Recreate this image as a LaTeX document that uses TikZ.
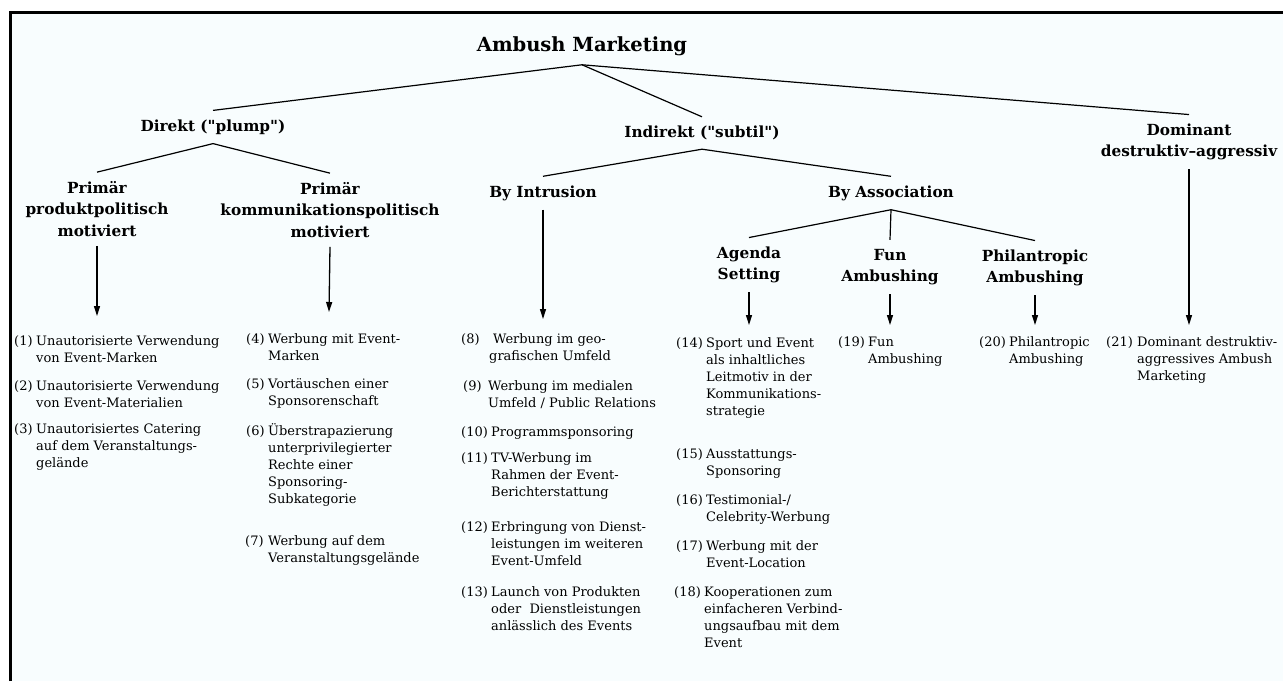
\documentclass[tikz,border=0pt]{standalone}
\usepackage{fontspec}
\setmainfont{DejaVu Serif}
\usetikzlibrary{arrows.meta}
\definecolor{bgc}{HTML}{F8FDFE}
\newcommand{\itm}[3]{\makebox[#1][l]{#2}\begin{tabular}[t]{@{}l@{}}#3\end{tabular}}
\newcommand{\q}{\textquotedbl}
\begin{document}
\begin{tikzpicture}[x=1pt,y=-1pt,
  head/.style={font=\fontsize{15.3}{21.5}\selectfont\bfseries, align=center, inner xsep=0pt, inner ysep=9pt},
  item/.style={font=\fontsize{13}{17}\selectfont, anchor=base west, inner sep=0pt},
  link/.style={line width=1.2pt},
  arr/.style={line width=1.3pt, -{Triangle[length=10pt,width=6pt]}}]
\useasboundingbox (0,0) rectangle (1283,681);
\fill[white] (0,0) rectangle (1283,681);
\fill[bgc] (10.5,12.5) rectangle (1283,681);
\draw[line width=3.5pt] (10.5,681) -- (10.5,12.7) -- (1283,12.7);

% headings
\node[head, font=\fontsize{19.5}{23}\selectfont\bfseries] (title) at (582,46) {Ambush Marketing};
\node[head] (direkt) at (213,127) {Direkt (\q plump\q)};
\node[head] (indirekt) at (702,133) {Indirekt (\q subtil\q)};
\node[head] (dominant) at (1189,142) {Dominant\\destruktiv–aggressiv};
\node[head] (prod) at (97,209) {Primär\\produktpolitisch\\motiviert};
\node[head] (komm) at (330,210) {Primär\\kommunikationspolitisch\\motiviert};
\node[head] (intr) at (543,193) {By Intrusion};
\node[head] (assoc) at (891,193) {By Association};
\node[head] (agenda) at (749,265) {Agenda\\Setting};
\node[head] (fun) at (890,267) {Fun\\Ambushing};
\node[head] (phil) at (1035,268) {Philantropic\\Ambushing};

% tree lines
\draw[link] (title.south) -- (direkt.north);
\draw[link] (title.south) -- (indirekt.north);
\draw[link] (title.south) -- (dominant.north);
\draw[link] (direkt.south) -- (prod.north);
\draw[link] (direkt.south) -- (komm.north);
\draw[link] (indirekt.south) -- (intr.north);
\draw[link] (indirekt.south) -- (assoc.north);
\draw[link] (assoc.south) -- (agenda.north);
\draw[link] (assoc.south) -- (fun.north);
\draw[link] (assoc.south) -- (phil.north);

% arrow ends
\coordinate (eprod) at (97,316);
\coordinate (ekomm) at (329,312);
\coordinate (eintr) at (543,319);
\coordinate (eagenda) at (749,325);
\coordinate (efun) at (890,325);
\coordinate (ephil) at (1035,325);
\coordinate (edom) at (1189,325);
\draw[arr] (prod.south) -- (eprod);
\draw[arr] (komm.south) -- (ekomm);
\draw[arr] (intr.south) -- (eintr);
\draw[arr] (agenda.south) -- (eagenda);
\draw[arr] (fun.south) -- (efun);
\draw[arr] (phil.south) -- (ephil);
\draw[arr] (dominant.south) -- (edom);

% column 1
\node[item] (i1) at (14,345) {\itm{22pt}{(1)}{Unautorisierte Verwendung\\von Event-Marken}};
\node[item] (i2) at (14,390) {\itm{22pt}{(2)}{Unautorisierte Verwendung\\von Event-Materialien}};
\node[item] (i3) at (14,433) {\itm{22pt}{(3)}{Unautorisiertes Catering\\auf dem Veranstaltungs-\\gelände}};
% column 2
\node[item] (i4) at (246,343) {\itm{22pt}{(4)}{Werbung mit Event-\\Marken}};
\node[item] (i5) at (246,388) {\itm{22pt}{(5)}{Vortäuschen einer\\Sponsorenschaft}};
\node[item] (i6) at (246,435) {\itm{22pt}{(6)}{Überstrapazierung\\unterprivilegierter\\Rechte einer\\Sponsoring-\\Subkategorie}};
\node[item] (i7) at (245,545) {\itm{23pt}{(7)}{Werbung auf dem\\Veranstaltungsgelände}};
% column 3
\node[item] (i8) at (461,343) {\itm{28pt}{(8)}{\hspace{4pt}Werbung im geo-\\grafischen Umfeld}};
\node[item] (i9) at (463,390) {\itm{25pt}{(9)}{Werbung im medialen\\Umfeld / Public Relations}};
\node[item] (i10) at (461,436) {\itm{30pt}{(10)}{Programmsponsoring}};
\node[item] (i11) at (461,462) {\itm{30pt}{(11)}{TV-Werbung im\\Rahmen der Event-\\Berichterstattung}};
\node[item] (i12) at (461,531) {\itm{30pt}{(12)}{Erbringung von Dienst-\\leistungen im weiteren\\Event-Umfeld}};
\node[item] (i13) at (461,596) {\itm{30pt}{(13)}{Launch von Produkten\\oder\ \ Dienstleistungen\\anlässlich des Events}};
% column 4
\node[item] (i14) at (676,347) {\itm{30pt}{(14)}{Sport und Event\\als inhaltliches\\Leitmotiv in der\\Kommunikations-\\strategie}};
\node[item] (i15) at (676,458) {\itm{30pt}{(15)}{Ausstattungs-\\Sponsoring}};
\node[item] (i16) at (676,504) {\itm{30pt}{(16)}{Testimonial-/\\Celebrity-Werbung}};
\node[item] (i17) at (676,550) {\itm{30pt}{(17)}{Werbung mit der\\Event-Location}};
\node[item] (i18) at (674,596) {\itm{30pt}{(18)}{Kooperationen zum\\einfacheren Verbind-\\ungsaufbau mit dem\\Event}};
% column 5
\node[item] (i19) at (838,346) {\itm{30pt}{(19)}{Fun\\Ambushing}};
\node[item] (i20) at (979,346) {\itm{30pt}{(20)}{Philantropic\\Ambushing}};
\node[item] (i21) at (1106,346) {\itm{31pt}{(21)}{Dominant destruktiv-\\aggressives Ambush\\Marketing}};
\end{tikzpicture}
\end{document}
